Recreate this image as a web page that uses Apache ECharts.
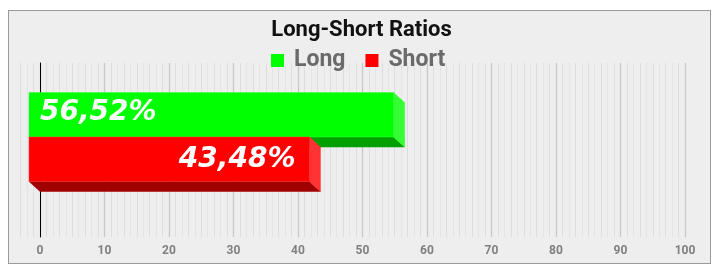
<!DOCTYPE html>
<html>
<head>
<meta charset="utf-8">
<script src="https://cdn.jsdelivr.net/npm/echarts@6/dist/echarts.min.js"></script>
<style>
html,body{margin:0;padding:0;background:#fff;}
#frame{position:absolute;left:8px;top:10px;width:701px;height:252px;background:#eeeeee;border:1.5px solid #9a9a9a;}
#chart{position:absolute;left:0;top:0;width:723px;height:279px;}
</style>
</head>
<body>
<div id="frame"></div>
<div id="chart"></div>
<script>
const titleText = 'Long-Short Ratios';
const categories = ['Long', 'Short'];
const values = [56.52, 43.48];
const xTicks = [0, 10, 20, 30, 40, 50, 60, 70, 80, 90, 100];

const frontColors = ['#00ff00', '#ff0000'];
const sideColors = ['#33ff33', '#ff3333'];
const bottomColors = ['#00a000', '#a00000'];
const labelAligns = ['left', 'right'];

function fmt(v) { return v.toFixed(2).replace('.', ',') + '%'; }

const DX = -11, DY = -10;

function makeRender(i) {
  return function (params, api) {
    const v = api.value(0), idx = api.value(1);
    const p0 = api.coord([0, idx]);
    const p1 = api.coord([v, idx]);
    const h = api.size([0, 1])[1];
    const xb0 = p0[0], xb1 = p1[0], yb0 = p0[1] - h / 2, yb1 = p0[1] + h / 2;
    const xf0 = xb0 + DX, xf1 = xb1 + DX, yf0 = yb0 + DY, yf1 = yb1 + DY;
    const cy = (yf0 + yf1) / 2;
    const children = [
      { type: 'polygon', shape: { points: [[xf0, yf1], [xf1, yf1], [xb1, yb1], [xb0, yb1]] },
        style: { fill: bottomColors[i], stroke: bottomColors[i], lineWidth: 0.5 } },
      { type: 'polygon', shape: { points: [[xf1, yf0], [xb1, yb0], [xb1, yb1], [xf1, yf1]] },
        style: { fill: sideColors[i], stroke: sideColors[i], lineWidth: 0.5 } },
      { type: 'rect', shape: { x: xf0, y: yf0, width: xf1 - xf0, height: yf1 - yf0 },
        style: { fill: frontColors[i], stroke: sideColors[i], lineWidth: 0.5 } },
      { type: 'text', style: {
          text: fmt(v),
          x: labelAligns[i] === 'left' ? xf0 + 11 : xf1 - 14,
          y: cy - (i === 0 ? 2 : 0),
          textAlign: labelAligns[i], textVerticalAlign: 'middle',
          fill: '#ffffff', fontFamily: 'DejaVu Sans', fontWeight: 'bold', fontStyle: 'italic', fontSize: 28
        } }
    ];
    return { type: 'group', children: children };
  };
}

const chart = echarts.init(document.getElementById('chart'));
chart.setOption({
  animation: false,
  backgroundColor: 'transparent',
  title: {
    text: titleText, left: 'center', top: 14,
    textStyle: { fontFamily: 'Roboto', fontWeight: 'bold', fontSize: 22, color: '#111111' }
  },
  legend: {
    data: categories, left: 271, top: 49, padding: 0,
    itemWidth: 13, itemHeight: 13, itemGap: 20, icon: 'rect',
    textStyle: { fontFamily: 'Roboto', fontWeight: 'bold', fontSize: 23, color: '#6a6a6a', padding: [0, 0, 0, 5] }
  },
  grid: [
    { left: 40, right: 38, top: 63, bottom: 42 },
    { left: 40, right: 38, top: 102.5, height: 89 },
    { left: 40 - 3 * 6.45, right: 38, top: 63, bottom: 42 }
  ],
  xAxis: [
    { gridIndex: 0, type: 'value', min: xTicks[0], max: xTicks[xTicks.length - 1], interval: xTicks[1] - xTicks[0],
      axisLine: { show: false }, axisTick: { show: false },
      axisLabel: { color: '#808080', fontFamily: 'Roboto', fontWeight: 'bold', fontSize: 12, margin: 8 },
      splitLine: { show: true, lineStyle: { color: '#c8c8c8', width: 1.3 } }, z: 1 },
    { gridIndex: 1, type: 'value', min: 0, max: 100, show: false },
    { gridIndex: 2, type: 'value', min: -3, max: 100, interval: 1, axisLine: { show: false }, axisTick: { show: false },
      axisLabel: { show: false },
      splitLine: { show: true, lineStyle: { color: ['#dddddd', '#e4e4e4'], width: 1 } }, z: 0 }
  ],
  yAxis: [
    { gridIndex: 0, type: 'category', data: categories, inverse: true,
      axisLine: { show: true, lineStyle: { color: '#000000', width: 1 } },
      axisTick: { show: false }, axisLabel: { show: false }, splitLine: { show: false }, z: 3 },
    { gridIndex: 1, type: 'category', data: categories, inverse: true, show: false },
    { gridIndex: 2, type: 'category', data: categories, show: false }
  ],
  series: categories.map((name, i) => ({
    name: name, type: 'custom', xAxisIndex: 1, yAxisIndex: 1,
    itemStyle: { color: frontColors[i] },
    renderItem: makeRender(i),
    data: [[values[i], i]],
    z: 5 + i
  }))
});
</script>
</body>
</html>
